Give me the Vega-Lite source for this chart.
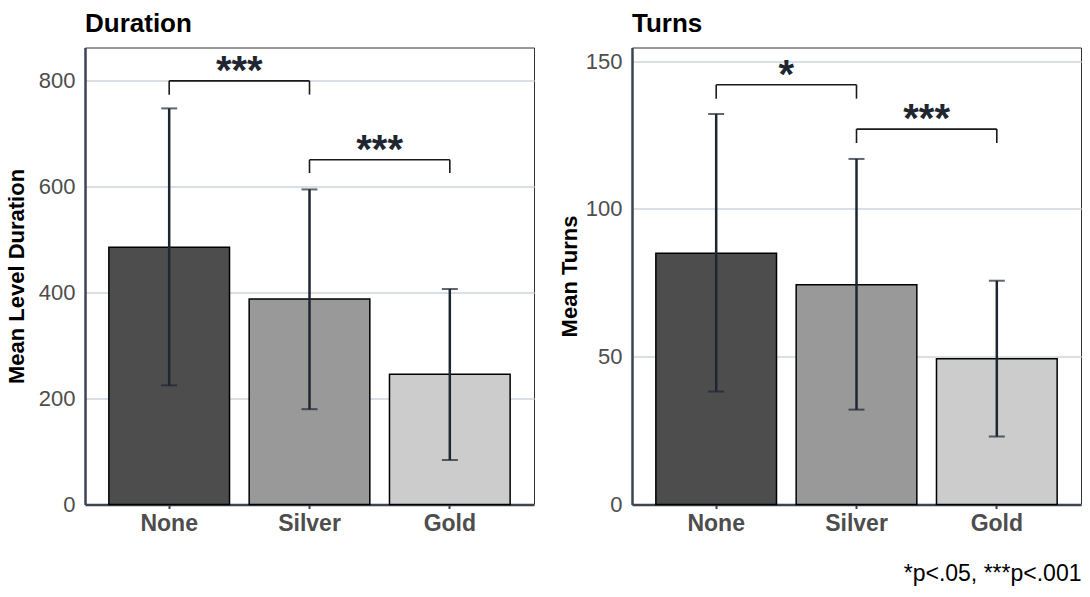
{
  "$schema": "https://vega.github.io/schema/vega-lite/v6.json",
  "background": "white",
  "padding": {"left": 4, "top": 9.5, "right": 8, "bottom": 12},
  "config": {
    "font": "Liberation Sans",
    "view": {"stroke": "#333333", "strokeWidth": 1},
    "concat": {"spacing": 22},
    "axisX": {
      "title": null, "labelAngle": 0, "labelFontSize": 23, "labelFontWeight": "bold",
      "labelColor": "#4d4d4d", "tickSize": 4, "tickColor": "#3b4450", "tickWidth": 2,
      "domainColor": "#3b4450", "domainWidth": 2.5, "labelPadding": 4, "grid": false
    },
    "axisY": {
      "labelFontSize": 22, "labelColor": "#4d4d4d", "ticks": false, "labelPadding": 10,
      "titleFontSize": 22, "titleFontWeight": "bold", "titleColor": "black", "titlePadding": 10,
      "grid": true, "gridColor": "#d8dfe6", "gridWidth": 2,
      "domainColor": "#3b4450", "domainWidth": 2.5
    },
    "title": {"anchor": "start", "frame": "group", "fontSize": 26, "fontWeight": "bold", "color": "black", "offset": 11}
  },
  "title": {"text": "*p<.05, ***p<.001", "orient": "bottom", "anchor": "end", "frame": "bounds", "fontSize": 23, "fontWeight": "normal", "color": "black", "offset": 27},
  "hconcat": [
    {
      "width": 449, "height": 457,
      "title": {"text": "Duration"},
      "data": {"values": [
        {"medal": "None", "mean": 486, "lo": 225, "hi": 748},
        {"medal": "Silver", "mean": 388, "lo": 180, "hi": 595},
        {"medal": "Gold", "mean": 246, "lo": 84, "hi": 407}
      ]},
      "layer": [
        {
          "mark": {"type": "bar", "stroke": "black", "strokeWidth": 1.5},
          "encoding": {
            "x": {"field": "medal", "type": "nominal", "scale": {"domain": ["None", "Silver", "Gold"], "paddingInner": 0.14, "paddingOuter": 0.17}},
            "y": {"field": "mean", "type": "quantitative", "scale": {"domain": [0, 863], "nice": false}, "axis": {"title": "Mean Level Duration", "values": [0, 200, 400, 600, 800]}},
            "color": {"field": "medal", "type": "nominal", "scale": {"domain": ["None", "Silver", "Gold"], "range": ["#4d4d4d", "#999999", "#cccccc"]}, "legend": null}
          }
        },
        {
          "mark": {"type": "rule", "color": "#1e2730", "strokeWidth": 2.5},
          "encoding": {
            "x": {"field": "medal", "type": "nominal"},
            "y": {"field": "lo", "type": "quantitative"},
            "y2": {"field": "hi"}
          }
        },
        {
          "mark": {"type": "tick", "color": "#1e2730", "thickness": 2, "size": 16, "orient": "horizontal"},
          "encoding": {
            "x": {"field": "medal", "type": "nominal"},
            "y": {"field": "hi", "type": "quantitative"}
          }
        },
        {
          "mark": {"type": "tick", "color": "#1e2730", "thickness": 2, "size": 16, "orient": "horizontal"},
          "encoding": {
            "x": {"field": "medal", "type": "nominal"},
            "y": {"field": "lo", "type": "quantitative"}
          }
        },
        {
          "data": {"values": [
            {"from": "None", "to": "Silver", "top": 800, "bot": 774, "label": "***"},
            {"from": "Silver", "to": "Gold", "top": 651, "bot": 626, "label": "***"}
          ]},
          "layer": [
            {
              "mark": {"type": "rule", "color": "#1a1a1a", "strokeWidth": 1.6},
              "encoding": {
                "x": {"field": "from", "type": "nominal"},
                "x2": {"field": "to"},
                "y": {"field": "top", "type": "quantitative"}
              }
            },
            {
              "mark": {"type": "rule", "color": "#1a1a1a", "strokeWidth": 1.6},
              "encoding": {
                "x": {"field": "from", "type": "nominal"},
                "y": {"field": "top", "type": "quantitative"},
                "y2": {"field": "bot"}
              }
            },
            {
              "mark": {"type": "rule", "color": "#1a1a1a", "strokeWidth": 1.6},
              "encoding": {
                "x": {"field": "to", "type": "nominal"},
                "y": {"field": "top", "type": "quantitative"},
                "y2": {"field": "bot"}
              }
            },
            {
              "mark": {"type": "text", "fontSize": 40, "fontWeight": "bold", "color": "#1e2730", "baseline": "alphabetic", "dy": 3},
              "encoding": {
                "x": {"field": "from", "type": "nominal", "bandPosition": 1.081},
                "y": {"field": "top", "type": "quantitative"},
                "text": {"field": "label"}
              }
            }
          ]
        }
      ]
    },
    {
      "width": 449, "height": 457,
      "title": {"text": "Turns"},
      "data": {"values": [
        {"medal": "None", "mean": 85, "lo": 38.2, "hi": 132.1},
        {"medal": "Silver", "mean": 74.3, "lo": 32.1, "hi": 116.9},
        {"medal": "Gold", "mean": 49.3, "lo": 23, "hi": 75.7}
      ]},
      "layer": [
        {
          "mark": {"type": "bar", "stroke": "black", "strokeWidth": 1.5},
          "encoding": {
            "x": {"field": "medal", "type": "nominal", "scale": {"domain": ["None", "Silver", "Gold"], "paddingInner": 0.14, "paddingOuter": 0.17}},
            "y": {"field": "mean", "type": "quantitative", "scale": {"domain": [0, 154.6], "nice": false}, "axis": {"title": "Mean Turns", "titlePadding": 4, "values": [0, 50, 100, 150]}},
            "color": {"field": "medal", "type": "nominal", "scale": {"domain": ["None", "Silver", "Gold"], "range": ["#4d4d4d", "#999999", "#cccccc"]}, "legend": null}
          }
        },
        {
          "mark": {"type": "rule", "color": "#1e2730", "strokeWidth": 2.5},
          "encoding": {
            "x": {"field": "medal", "type": "nominal"},
            "y": {"field": "lo", "type": "quantitative"},
            "y2": {"field": "hi"}
          }
        },
        {
          "mark": {"type": "tick", "color": "#1e2730", "thickness": 2, "size": 16, "orient": "horizontal"},
          "encoding": {
            "x": {"field": "medal", "type": "nominal"},
            "y": {"field": "hi", "type": "quantitative"}
          }
        },
        {
          "mark": {"type": "tick", "color": "#1e2730", "thickness": 2, "size": 16, "orient": "horizontal"},
          "encoding": {
            "x": {"field": "medal", "type": "nominal"},
            "y": {"field": "lo", "type": "quantitative"}
          }
        },
        {
          "data": {"values": [
            {"from": "None", "to": "Silver", "top": 142, "bot": 137.3, "label": "*"},
            {"from": "Silver", "to": "Gold", "top": 127, "bot": 122.3, "label": "***"}
          ]},
          "layer": [
            {
              "mark": {"type": "rule", "color": "#1a1a1a", "strokeWidth": 1.6},
              "encoding": {
                "x": {"field": "from", "type": "nominal"},
                "x2": {"field": "to"},
                "y": {"field": "top", "type": "quantitative"}
              }
            },
            {
              "mark": {"type": "rule", "color": "#1a1a1a", "strokeWidth": 1.6},
              "encoding": {
                "x": {"field": "from", "type": "nominal"},
                "y": {"field": "top", "type": "quantitative"},
                "y2": {"field": "bot"}
              }
            },
            {
              "mark": {"type": "rule", "color": "#1a1a1a", "strokeWidth": 1.6},
              "encoding": {
                "x": {"field": "to", "type": "nominal"},
                "y": {"field": "top", "type": "quantitative"},
                "y2": {"field": "bot"}
              }
            },
            {
              "mark": {"type": "text", "fontSize": 40, "fontWeight": "bold", "color": "#1e2730", "baseline": "alphabetic", "dy": 3},
              "encoding": {
                "x": {"field": "from", "type": "nominal", "bandPosition": 1.081},
                "y": {"field": "top", "type": "quantitative"},
                "text": {"field": "label"}
              }
            }
          ]
        }
      ]
    }
  ]
}
